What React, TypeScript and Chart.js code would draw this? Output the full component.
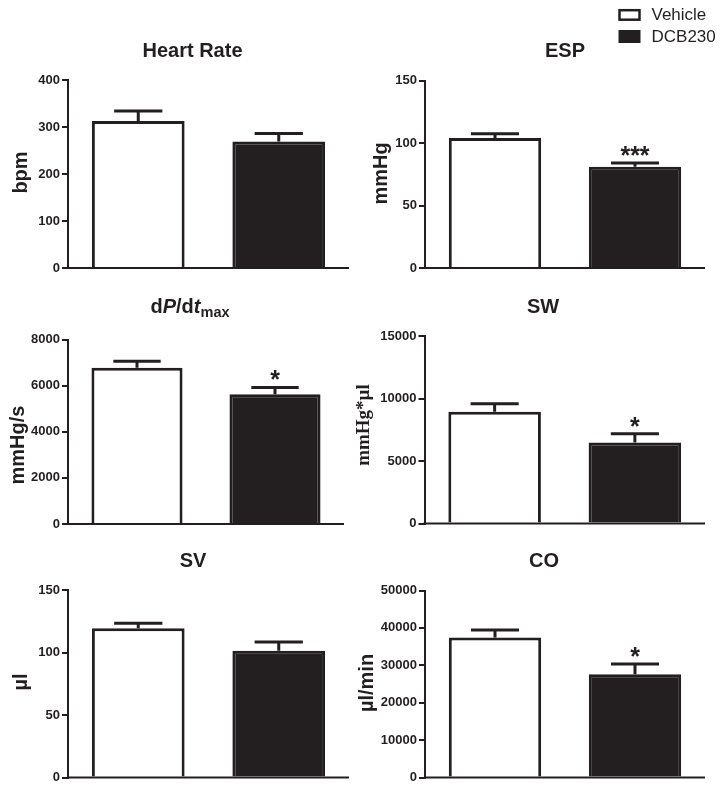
import React, { useEffect, useRef } from 'react';
import { Chart, registerables } from 'chart.js';

Chart.register(...registerables);

// ---------- data ----------
const groups = ['Vehicle', 'DCB230'];
const panelTitleSegments = [
  [{ text: 'Heart Rate' }],
  [{ text: 'ESP' }],
  [{ text: 'd' }, { text: 'P', italic: true }, { text: '/d' }, { text: 't', italic: true }, { text: 'max', sub: true }],
  [{ text: 'SW' }],
  [{ text: 'SV' }],
  [{ text: 'CO' }],
];
const yAxisTitles = ['bpm', 'mmHg', 'mmHg/s', 'mmHg*µl', 'µl', 'µl/min'];
const vehicleMeans = [313, 104, 6770, 8950, 119.5, 37400];
const vehicleErrors = [21, 3.5, 290, 640, 4, 2050];
const dcbMeans = [269, 81, 5630, 6480, 101.5, 27600];
const dcbErrors = [17, 3, 290, 700, 7, 2750];
const yMaxValues = [400, 150, 8000, 15000, 150, 50000];
const yStepValues = [100, 50, 2000, 5000, 50, 10000];
const significance = ['', '***', '*', '*', '', '*'];

// ---------- layout (page coordinates) ----------
const canvasRects = [
  { x: 0, y: 0, w: 350, h: 280 },
  { x: 350, y: 0, w: 374, h: 280 },
  { x: 0, y: 280, w: 350, h: 260 },
  { x: 350, y: 280, w: 374, h: 260 },
  { x: 0, y: 540, w: 350, h: 248 },
  { x: 350, y: 540, w: 374, h: 248 },
];
const plotAreas = [
  { left: 68, top: 80, right: 349, bottom: 268, titleX: 192.5, titleY: 57, yTitleX: 21, yTitleY: 172.5 },
  { left: 425, top: 80.5, right: 705, bottom: 268, titleX: 565, titleY: 57, yTitleX: 381.5, yTitleY: 173.5 },
  { left: 68, top: 339.5, right: 344, bottom: 524, titleX: 190, titleY: 313, yTitleX: 18.5, yTitleY: 445 },
  { left: 424.5, top: 336, right: 705, bottom: 523.5, titleX: 543, titleY: 313, yTitleX: 364.5, yTitleY: 425 },
  { left: 68, top: 590, right: 349, bottom: 777.5, titleX: 193, titleY: 567, yTitleX: 21, yTitleY: 682 },
  { left: 425, top: 590.5, right: 705, bottom: 777.5, titleX: 544, titleY: 567, yTitleX: 367, yTitleY: 683 },
];

const FONT = 'Arial, "Liberation Sans", Helvetica, sans-serif';
const SERIF = '"Liberation Serif", "Times New Roman", serif';
const INK = '#231f20';

function drawTitle(ctx: CanvasRenderingContext2D, segs: any[], cx: number, baseline: number) {
  const fontFor = (s: any) =>
    s.sub ? `bold 14.5px ${FONT}` : `${s.italic ? 'italic ' : ''}bold 20px ${FONT}`;
  let total = 0;
  segs.forEach((s) => {
    ctx.font = fontFor(s);
    total += ctx.measureText(s.text).width;
  });
  let x = cx - total / 2;
  ctx.textAlign = 'left';
  ctx.textBaseline = 'alphabetic';
  ctx.fillStyle = INK;
  segs.forEach((s) => {
    ctx.font = fontFor(s);
    ctx.fillText(s.text, x, baseline + (s.sub ? 3.5 : 0));
    x += ctx.measureText(s.text).width;
  });
}

function makeDecor(i: number) {
  const C = canvasRects[i];
  const L = plotAreas[i];
  return {
    id: 'decor' + i,
    afterDatasetsDraw(chart: any) {
      const ctx: CanvasRenderingContext2D = chart.ctx;
      const area = chart.chartArea;
      const yScale = chart.scales.y;
      ctx.save();
      // x axis line
      ctx.strokeStyle = INK;
      ctx.lineWidth = 2;
      ctx.beginPath();
      ctx.moveTo(area.left - 1, area.bottom);
      ctx.lineTo(area.right, area.bottom);
      ctx.stroke();

      // error bars
      const means = [vehicleMeans[i], dcbMeans[i]];
      const errs = [vehicleErrors[i], dcbErrors[i]];
      chart.data.datasets.forEach((_ds: any, d: number) => {
        const bar = chart.getDatasetMeta(d).data[0];
        const p = bar.getProps(['x', 'y', 'width'], true);
        const topY = yScale.getPixelForValue(means[d] + errs[d]);
        const half = (p.width * 0.52) / 2;
        ctx.lineWidth = 3;
        ctx.strokeStyle = INK;
        ctx.beginPath();
        ctx.moveTo(p.x, p.y);
        ctx.lineTo(p.x, topY);
        ctx.moveTo(p.x - half, topY);
        ctx.lineTo(p.x + half, topY);
        ctx.stroke();
        if (d === 1 && significance[i]) {
          ctx.font = `bold 25px ${FONT}`;
          ctx.textAlign = 'center';
          ctx.textBaseline = 'alphabetic';
          ctx.fillStyle = INK;
          ctx.fillText(significance[i], p.x, topY + 1);
        }
      });

      // panel title
      drawTitle(ctx, panelTitleSegments[i], L.titleX - C.x, L.titleY - C.y);

      // y axis title
      ctx.save();
      ctx.translate(L.yTitleX - C.x, L.yTitleY - C.y);
      ctx.rotate(-Math.PI / 2);
      ctx.textAlign = 'center';
      ctx.textBaseline = 'middle';
      ctx.fillStyle = INK;
      ctx.font = i === 3 ? `bold 19px ${SERIF}` : `bold 20px ${FONT}`;
      ctx.fillText(yAxisTitles[i], 0, 0);
      ctx.restore();

      // legend (top right)
      if (i === 1) {
        ctx.lineWidth = 2.5;
        ctx.strokeStyle = INK;
        ctx.strokeRect(619.5 - C.x, 10.2 - C.y, 20, 9.5);
        ctx.fillStyle = INK;
        ctx.fillRect(618.5 - C.x, 30 - C.y, 22, 13);
        ctx.font = `17px ${FONT}`;
        ctx.textAlign = 'left';
        ctx.textBaseline = 'middle';
        ctx.fillText(groups[0], 651.5 - C.x, 15.5 - C.y);
        ctx.fillText(groups[1], 651.5 - C.x, 37.5 - C.y);
      }
      ctx.restore();
    },
  };
}

function Panel({ index }: { index: number }) {
  const ref = useRef<HTMLCanvasElement>(null);
  const C = canvasRects[index];
  useEffect(() => {
    const L = plotAreas[index];
    const chart = new Chart(ref.current as HTMLCanvasElement, {
      type: 'bar',
      data: {
        labels: [''],
        datasets: [
          {
            label: groups[0],
            data: [vehicleMeans[index]],
            backgroundColor: '#ffffff',
            borderColor: INK,
            borderWidth: 3,
            categoryPercentage: 1,
            barPercentage: 0.66,
          },
          {
            label: groups[1],
            data: [dcbMeans[index]],
            backgroundColor: INK,
            borderColor: INK,
            borderWidth: 3,
            categoryPercentage: 1,
            barPercentage: 0.66,
          },
        ],
      },
      options: {
        animation: false,
        responsive: false,
        maintainAspectRatio: false,
        events: [],
        layout: {
          padding: {
            left: 0,
            top: L.top - C.y,
            right: C.x + C.w - L.right,
            bottom: C.y + C.h - L.bottom,
          },
        },
        plugins: {
          legend: { display: false },
          tooltip: { enabled: false },
          title: { display: false },
        },
        scales: {
          x: { display: false },
          y: {
            min: 0,
            max: yMaxValues[index],
            afterFit: (scale: any) => {
              scale.width = L.left - C.x;
            },
            ticks: {
              stepSize: yStepValues[index],
              color: INK,
              padding: 2,
              font: { family: FONT, size: 13, weight: 'bold' },
              callback: (v: any) => String(v),
            },
            grid: {
              drawOnChartArea: false,
              drawTicks: true,
              tickLength: 6,
              color: INK,
              lineWidth: 2,
            },
            border: { display: true, color: INK, width: 2 },
          },
        },
      } as any,
      plugins: [makeDecor(index)],
    });
    return () => chart.destroy();
  }, [index]);
  return (
    <canvas
      ref={ref}
      width={C.w}
      height={C.h}
      style={{ position: 'absolute', left: C.x, top: C.y, width: C.w, height: C.h }}
    />
  );
}

export default function App() {
  return (
    <div style={{ position: 'absolute', left: 0, top: 0, width: 724, height: 788, background: '#ffffff' }}>
      {[0, 1, 2, 3, 4, 5].map((i) => (
        <Panel key={i} index={i} />
      ))}
    </div>
  );
}
